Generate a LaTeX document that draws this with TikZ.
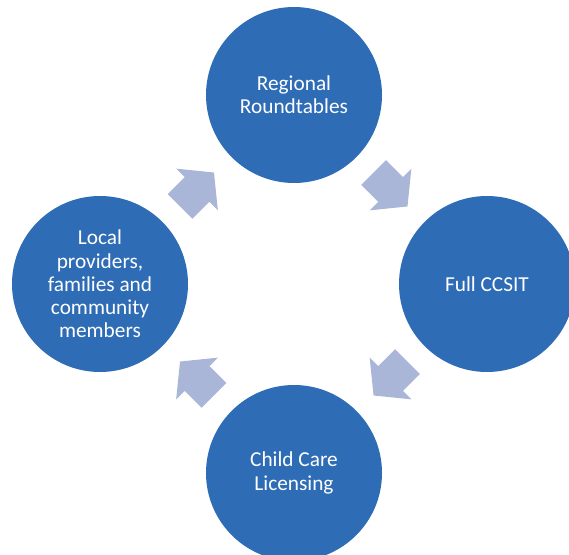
\documentclass[tikz,border=0pt]{standalone}
\usepackage{fontspec}
\setmainfont{Carlito}
\usetikzlibrary{calc}
\definecolor{circblue}{RGB}{46,108,181}
\definecolor{arrowgray}{RGB}{169,182,216}
\tikzset{
  stage/.style={circle, fill=circblue, draw=none, minimum size=176pt, inner sep=0pt,
    text=white, align=center, font=\fontsize{21.3}{23.2}\selectfont},
  blockarrow/.style={fill=arrowgray, draw=none}
}
\newcommand\cyclearrow[3]{%
  \fill[blockarrow, shift={($(#1)!0.5!(#2)$)}, rotate=#3]
    (-24,-17.5) -- (0,-17.5) -- (0,-29.5) -- (24,0) -- (0,29.5) -- (0,17.5) -- (-24,17.5) -- cycle;}
\begin{document}
\begin{tikzpicture}[x=1pt,y=1pt]
  \useasboundingbox (0,0) rectangle (569,554);
  \node[stage] (top) at (294,459) {Regional\\Roundtables};
  \node[stage] (right) at (487,270) {Full CCSIT};
  \node[stage] (bottom) at (294,81) {Child Care\\Licensing};
  \node[stage] (left) at (100,270) {Local\\providers,\\families and\\community\\members};
  \cyclearrow{top}{right}{-45}
  \cyclearrow{right}{bottom}{-135}
  \cyclearrow{bottom}{left}{135}
  \cyclearrow{left}{top}{45}
\end{tikzpicture}
\end{document}
